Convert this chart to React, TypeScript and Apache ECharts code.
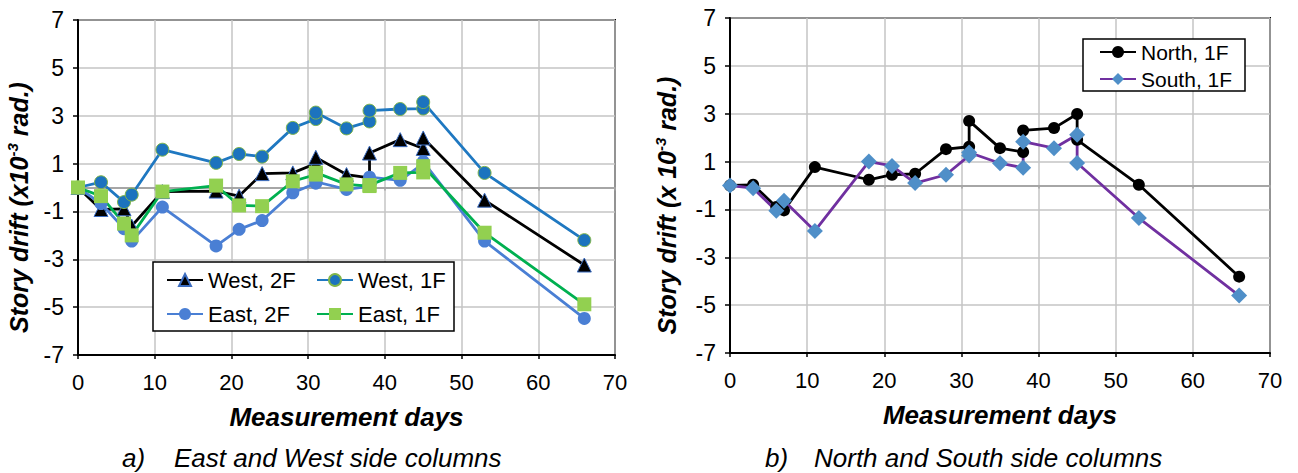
import React, { useEffect, useRef } from "react";
import * as echarts from "echarts";

const FONT = '"Liberation Sans", Arial, sans-serif';

// Measurement days (duplicate days = two readings on the same day)
const days = [0, 3, 6, 7, 11, 18, 21, 24, 28, 31, 31, 35, 38, 38, 42, 45, 45, 53, 66];

// a) East and West side columns
const west2F = [0, -0.92, -0.89, -1.61, -0.17, -0.15, -0.36, 0.58, 0.61, 1.0, 1.26, 0.54, 0.4, 1.44, 2.0, 1.63, 2.07, -0.53, -3.24];
const west1F = [0, 0.22, -0.61, -0.3, 1.58, 1.03, 1.4, 1.29, 2.49, 2.86, 3.13, 2.47, 2.76, 3.21, 3.28, 3.3, 3.57, 0.61, -2.2];
const east2F = [0, -0.67, -1.72, -2.24, -0.82, -2.44, -1.75, -1.38, -0.22, 0.18, 0.24, -0.08, 0.05, 0.43, 0.3, 1.0, 1.08, -2.24, -5.47];
const east1F = [0, -0.36, -1.51, -2.0, -0.17, 0.08, -0.75, -0.78, 0.26, 0.54, 0.62, 0.13, 0.06, 0.1, 0.61, 0.63, 0.89, -1.89, -4.88];

// b) North and South side columns
const north1F = [0, 0.03, -0.9, -1.04, 0.77, 0.24, 0.45, 0.49, 1.52, 1.62, 2.7, 1.56, 1.4, 2.3, 2.4, 2.99, 1.91, 0.03, -3.81];
const south1F = [0, -0.11, -1.05, -0.64, -1.9, 1.0, 0.82, 0.1, 0.45, 1.25, 1.38, 0.93, 0.74, 1.83, 1.56, 2.12, 0.94, -1.36, -4.6];

const xMin = 0;
const xMax = 70;
const xStep = 10;
const yMin = -7;
const yMax = 7;
const yStep = 2;

const captionA = ["a)", "East and West side columns"];
const captionB = ["b)", "North and South side columns"];

const pairs = (xs: number[], ys: number[]) => xs.map((x, i) => [x, ys[i]]);

const GRID_LINE = "#c4c4c4";

function bottomX(gridIndex: number) {
  return {
    type: "value",
    gridIndex,
    min: xMin,
    max: xMax,
    interval: xStep,
    position: "bottom",
    axisLine: { show: true, onZero: false, lineStyle: { color: "#000", width: 2 } },
    axisTick: { show: true, length: 4, lineStyle: { color: "#000", width: 1.5 } },
    axisLabel: { fontSize: 22, color: "#000", margin: 16, fontFamily: FONT },
    splitLine: { show: true, lineStyle: { color: GRID_LINE, width: 1.5 } },
    name: "Measurement days",
    nameLocation: "middle",
    nameGap: 49,
    nameTextStyle: { fontSize: 26, fontWeight: "bold", fontStyle: "italic", color: "#000", fontFamily: FONT },
  };
}

function zeroX(gridIndex: number) {
  return {
    type: "value",
    gridIndex,
    min: xMin,
    max: xMax,
    interval: xStep,
    position: "bottom",
    axisLine: { show: true, onZero: true, lineStyle: { color: "#a6a6a6", width: 2 } },
    axisTick: { show: true, length: 3, lineStyle: { color: "#a6a6a6", width: 1.5 } },
    axisLabel: { show: false },
    splitLine: { show: false },
  };
}

function leftY(gridIndex: number, name: string, gap: number) {
  const rich = {
    a: { fontSize: 25, fontWeight: "bold", fontStyle: "italic", color: "#000", fontFamily: FONT },
    s: { fontSize: 15, fontWeight: "bold", fontStyle: "italic", color: "#000", fontFamily: FONT, padding: [0, 0, 13, 0] },
  };
  return {
    type: "value",
    gridIndex,
    min: yMin,
    max: yMax,
    interval: yStep,
    axisLine: { show: true, onZero: false, lineStyle: { color: "#000", width: 2 } },
    axisTick: { show: true, length: 5, lineStyle: { color: "#000", width: 1.5 } },
    axisLabel: { fontSize: 23, color: "#000", margin: 14, fontFamily: FONT },
    splitLine: { show: true, lineStyle: { color: GRID_LINE, width: 1.5 } },
    name,
    nameLocation: "middle",
    nameGap: gap,
    nameTextStyle: {
      fontSize: 25,
      fontWeight: "bold",
      fontStyle: "italic",
      color: "#000",
      fontFamily: FONT,
      padding: [0, 40, 0, 0],
      rich,
    },
  };
}

function lineSeries(
  name: string,
  xi: number,
  yi: number,
  ys: number[],
  color: string,
  symbol: string,
  size: number,
  fill: string,
  border?: string
) {
  return {
    name,
    type: "line",
    xAxisIndex: xi,
    yAxisIndex: yi,
    data: pairs(days, ys),
    symbol,
    symbolSize: size,
    showAllSymbol: true,
    lineStyle: { color, width: 2.8 },
    itemStyle: { color: fill, borderColor: border || fill, borderWidth: border ? 1 : 0 },
    emphasis: { disabled: true },
  };
}

function legendCol(names: string[], left: number, top: number, gap: number, size: number) {
  return {
    data: names,
    orient: "vertical",
    left,
    top,
    padding: 0,
    itemGap: gap,
    itemWidth: 36,
    itemHeight: 15,
    selectedMode: false,
    z: 10,
    textStyle: { fontSize: size, color: "#000", fontFamily: FONT, lineHeight: 24 },
  };
}

export default function App() {
  const ref = useRef<HTMLDivElement>(null);
  useEffect(() => {
    if (!ref.current) return;
    const chart = echarts.init(ref.current, null, { renderer: "svg" });
    const captionStyle = (text: string, size: number) => ({
      text,
      fontSize: size,
      fontStyle: "italic",
      fontFamily: FONT,
      fill: "#000",
      align: "left",
      verticalAlign: "middle",
    });
    const option = {
      animation: false,
      textStyle: { fontFamily: FONT },
      grid: [
        { left: 78, top: 20, width: 537, height: 335, show: true, borderColor: "#000", borderWidth: 2 },
        { left: 730, top: 18, width: 540, height: 335, show: true, borderColor: "#000", borderWidth: 2 },
      ],
      xAxis: [bottomX(0), zeroX(0), bottomX(1), zeroX(1)],
      yAxis: [
        leftY(0, "{a|Story drift (x10}{s|-3}{a| rad.)}", 45),
        leftY(1, "{a|Story drift (x 10}{s|-3}{a| rad.)}", 49),
      ],
      legend: [
        legendCol(["West, 2F", "East, 2F"], 166, 268, 10, 22),
        legendCol(["West, 1F", "East, 1F"], 316, 268, 10, 22),
        legendCol(["North, 1F", "South, 1F"], 1099, 40, 3, 21),
      ],
      series: [
        lineSeries("West, 2F", 0, 0, west2F, "#000000", "triangle", 14, "#000000", "#3b6cc0"),
        lineSeries("West, 1F", 0, 0, west1F, "#1f78c1", "circle", 13, "#1c73be", "#7fb54a"),
        lineSeries("East, 2F", 0, 0, east2F, "#4a7fd4", "circle", 13, "#4a7fd4"),
        lineSeries("East, 1F", 0, 0, east1F, "#00b050", "rect", 14, "#92d050"),
        lineSeries("North, 1F", 2, 1, north1F, "#000000", "circle", 12, "#000000"),
        lineSeries("South, 1F", 2, 1, south1F, "#7030a0", "diamond", 16, "#4f8fc8"),
      ],
      graphic: [
        {
          type: "rect",
          z: 5,
          shape: { x: 153, y: 262, width: 301, height: 69 },
          style: { fill: "#fff", stroke: "#000", lineWidth: 1.5 },
        },
        {
          type: "rect",
          z: 5,
          shape: { x: 1083, y: 39, width: 162, height: 52 },
          style: { fill: "#fff", stroke: "#000", lineWidth: 1.5 },
        },
        { type: "text", x: 122, y: 458, style: captionStyle(captionA[0], 26) },
        { type: "text", x: 174, y: 458, style: captionStyle(captionA[1], 26) },
        { type: "text", x: 765, y: 458, style: captionStyle(captionB[0], 26) },
        { type: "text", x: 814, y: 458, style: captionStyle(captionB[1], 26) },
      ],
    };
    chart.setOption(option as any);
    return () => chart.dispose();
  }, []);
  return (
    <div
      ref={ref}
      style={{ position: "absolute", left: 0, top: 0, width: 1298, height: 473, background: "#fff" }}
    />
  );
}
